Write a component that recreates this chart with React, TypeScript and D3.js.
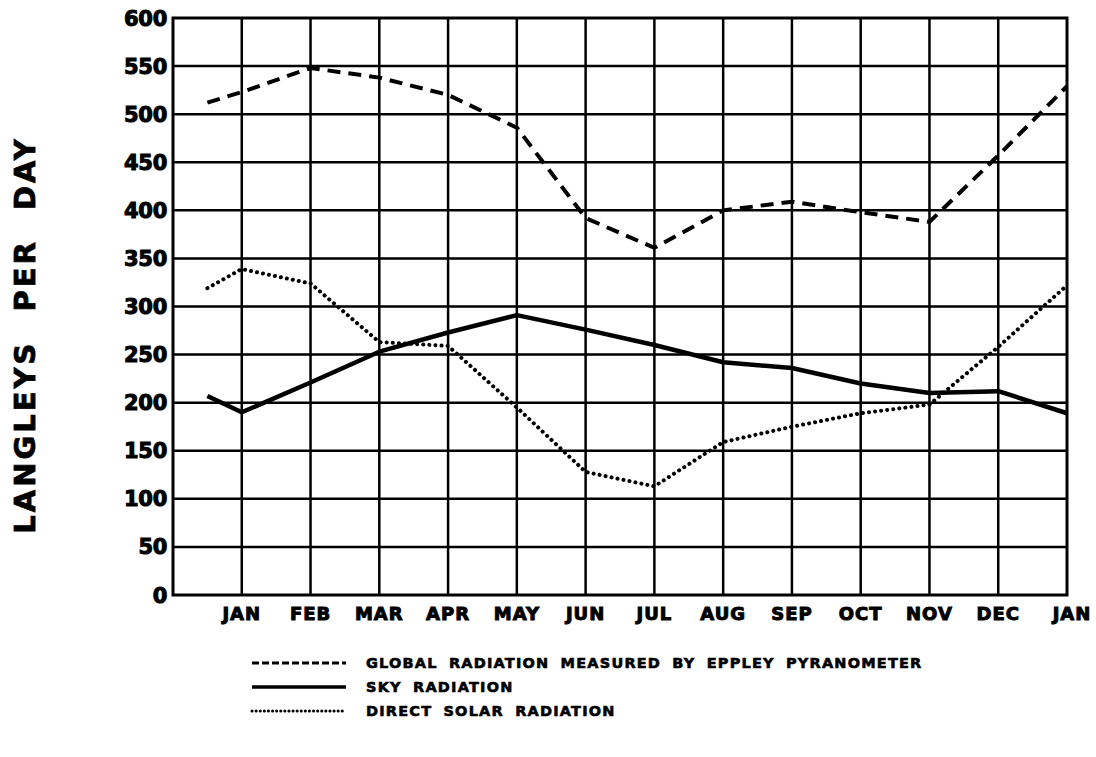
import React, { useEffect, useRef } from "react";
import * as d3 from "d3";

// month labels under the vertical grid lines (index 1..13)
const monthLabels = ["JAN", "FEB", "MAR", "APR", "MAY", "JUN", "JUL", "AUG", "SEP", "OCT", "NOV", "DEC", "JAN"];
// x position of each reading, in month index (0 = left frame, 1 = JAN ...)
const xPos = [0.5, 1, 2, 3, 4, 5, 6, 7, 8, 9, 10, 11, 12, 13];

const globalRad = [512, 523, 548, 538, 520, 486, 392, 361, 400, 409, 398, 388, 457, 529];
const skyRad = [207, 190, 221, 253, 273, 291, 276, 260, 242, 236, 220, 210, 212, 189];
const directRad = [319, 339, 324, 263, 259, 195, 128, 113, 159, 175, 189, 198, 258, 322];

const yTicks = [0, 50, 100, 150, 200, 250, 300, 350, 400, 450, 500, 550, 600];

const legendItems = [
  { label: "GLOBAL RADIATION MEASURED BY EPPLEY PYRANOMETER", dash: "7 3", width: 3, cap: "butt" },
  { label: "SKY RADIATION", dash: null, width: 3.5, cap: "butt" },
  { label: "DIRECT SOLAR RADIATION", dash: "0.1 4", width: 3, cap: "round" },
];

const FONT = "'DejaVu Sans', sans-serif";

function App() {
  const ref = useRef(null);

  useEffect(() => {
    const svg = d3.select(ref.current);
    svg.selectAll("*").remove();

    const left = 173, right = 1067, top = 18, bottom = 595;
    const x = d3.scaleLinear().domain([0, 13]).range([left, right]);
    const y = d3.scaleLinear().domain([0, 600]).range([bottom, top]);

    const g = svg.append("g");

    // grid
    g.selectAll(".hgrid")
      .data(yTicks.slice(1, -1))
      .join("line")
      .attr("x1", left).attr("x2", right)
      .attr("y1", d => y(d)).attr("y2", d => y(d))
      .attr("stroke", "#000").attr("stroke-width", 2.5);

    g.selectAll(".vgrid")
      .data(d3.range(1, 13))
      .join("line")
      .attr("x1", d => x(d)).attr("x2", d => x(d))
      .attr("y1", top).attr("y2", bottom)
      .attr("stroke", "#000").attr("stroke-width", 2.5);

    g.append("rect")
      .attr("x", left).attr("y", top)
      .attr("width", right - left).attr("height", bottom - top)
      .attr("fill", "none").attr("stroke", "#000").attr("stroke-width", 3);

    // y tick labels
    g.selectAll(".ytick")
      .data(yTicks)
      .join("text")
      .attr("x", left - 6)
      .attr("y", d => y(d))
      .attr("dy", "0.36em")
      .attr("text-anchor", "end")
      .style("font-family", FONT).style("font-weight", "bold")
      .style("font-size", "21px").style("letter-spacing", "-0.3px")
      .attr("stroke", "#000").attr("stroke-width", 1)
      .text(d => d);

    // x labels
    g.selectAll(".xtick")
      .data(monthLabels)
      .join("text")
      .attr("x", (d, i) => x(i + 1) + (i === 12 ? 5 : 0))
      .attr("y", 620)
      .attr("text-anchor", "middle")
      .style("font-family", FONT).style("font-weight", "bold")
      .style("font-size", "18px").style("letter-spacing", "1px")
      .attr("stroke", "#000").attr("stroke-width", 1)
      .text(d => d);

    // y title
    g.append("text")
      .attr("transform", "translate(35, 335) rotate(-90)")
      .attr("text-anchor", "middle")
      .style("font-family", FONT).style("font-weight", "bold")
      .style("font-size", "29px").style("letter-spacing", "3px").style("word-spacing", "16px")
      .attr("stroke", "#000").attr("stroke-width", 0.8)
      .text("LANGLEYS PER DAY");

    const line = d3.line()
      .x((d, i) => x(xPos[i]))
      .y(d => y(d));

    g.append("path")
      .attr("d", line(globalRad))
      .attr("fill", "none").attr("stroke", "#000")
      .attr("stroke-width", 4).attr("stroke-dasharray", "13 8");

    g.append("path")
      .attr("d", line(skyRad))
      .attr("fill", "none").attr("stroke", "#000")
      .attr("stroke-width", 4.5).attr("stroke-linejoin", "round");

    g.append("path")
      .attr("d", line(directRad))
      .attr("fill", "none").attr("stroke", "#000")
      .attr("stroke-width", 4).attr("stroke-linecap", "round")
      .attr("stroke-dasharray", "0.1 6");

    // legend
    const lg = g.append("g");
    legendItems.forEach((item, i) => {
      const ly = 663 + i * 24;
      const ln = lg.append("line")
        .attr("x1", 252).attr("x2", 346)
        .attr("y1", ly).attr("y2", ly)
        .attr("stroke", "#000").attr("stroke-width", item.width)
        .attr("stroke-linecap", item.cap);
      if (item.dash) ln.attr("stroke-dasharray", item.dash);
      lg.append("text")
        .attr("x", 366).attr("y", ly).attr("dy", "0.36em")
        .style("font-family", FONT).style("font-weight", "bold")
        .style("font-size", "14.5px").style("letter-spacing", "1.2px").style("word-spacing", "5px")
        .attr("stroke", "#000").attr("stroke-width", 0.6)
        .text(item.label);
    });
  }, []);

  return (
    <svg
      ref={ref}
      width={1096}
      height={757}
      style={{ position: "absolute", left: 0, top: 0, background: "#fff" }}
    />
  );
}

export default App;
